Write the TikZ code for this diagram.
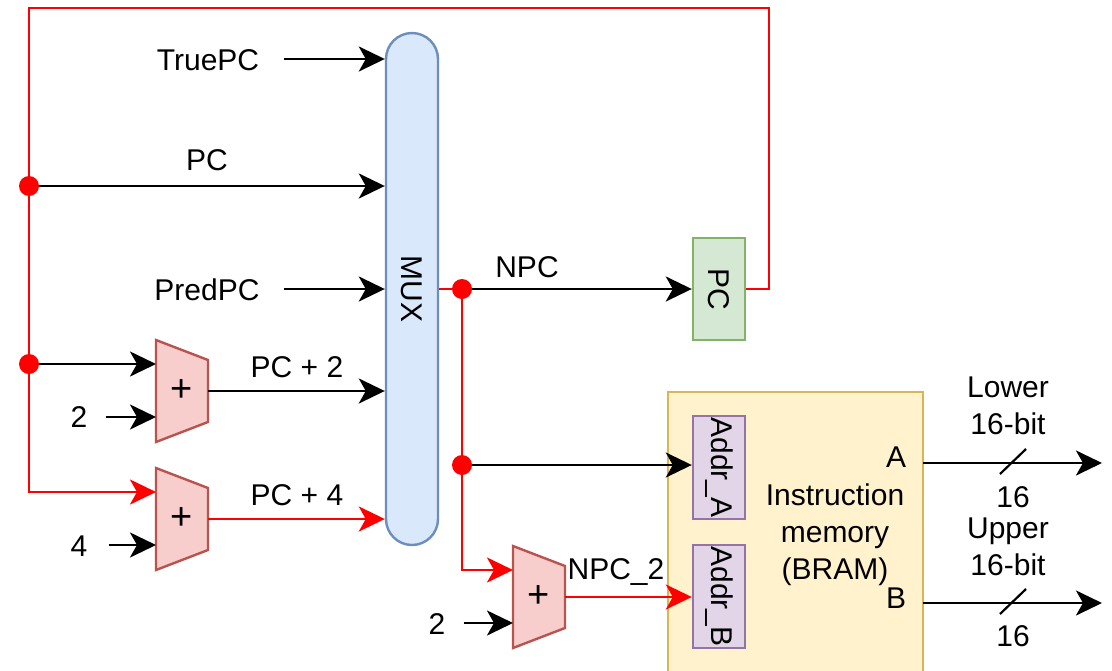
\documentclass[tikz,border=0pt]{standalone}
\usepackage{fontspec}
\setmainfont{Liberation Sans}
\usetikzlibrary{arrows.meta}
\definecolor{muxfill}{HTML}{DAE8FC}\definecolor{muxdraw}{HTML}{6C8EBF}
\definecolor{pcfill}{HTML}{D5E8D4}\definecolor{pcdraw}{HTML}{82B366}
\definecolor{addfill}{HTML}{F8CECC}\definecolor{adddraw}{HTML}{B85450}
\definecolor{memfill}{HTML}{FFF2CC}\definecolor{memdraw}{HTML}{D6B656}
\definecolor{addrfill}{HTML}{E1D5E7}\definecolor{addrdraw}{HTML}{9673A6}
\definecolor{wirered}{HTML}{FF0000}
\begin{document}
\begin{tikzpicture}[x=1pt,y=-1pt,
  lbl/.style={font=\fontsize{30}{37}\selectfont, inner sep=0pt, align=center},
  wire/.style={line width=2.8pt},
  redwire/.style={line width=2.8pt, draw=wirered},
  arr/.style={wire, -{Stealth[length=26pt,width=25pt,inset=7pt]}},
  redarr/.style={redwire, -{Stealth[length=26pt,width=25pt,inset=7pt]}},
  rdot/.style={circle, fill=wirered, minimum size=20pt, inner sep=0pt},
  blockbox/.style={line width=2.4pt, minimum width=52pt, inner sep=0pt},
  adder/.pic={
    \draw[line width=2.4pt, draw=adddraw, fill=addfill] (-26,-51) -- (26,-31) -- (26,31) -- (-26,51) -- cycle;
    \node[font=\fontsize{38}{40}\selectfont, inner sep=0pt] (-plus) at (0,0) {+};
    \coordinate (-in1) at (-26,-27);
    \coordinate (-in2) at (-26,26);
    \coordinate (-out) at (26,0);
  }]
\useasboundingbox (0,0) rectangle (1112,670);

% blocks
\node[blockbox, draw=muxdraw, fill=muxfill, rounded corners=26pt, minimum height=512pt] (mux) at (412,289) {};
\node[lbl, rotate=-90] (muxlbl) at (mux.center) {MUX};
\node[blockbox, draw=pcdraw, fill=pcfill, minimum height=102pt] (pc) at (719,289) {};
\node[lbl, rotate=-90] (pclbl2) at (pc.center) {PC};
\draw[line width=2.4pt, draw=memdraw, fill=memfill] (668,392) rectangle (923,700);
\node[blockbox, draw=addrdraw, fill=addrfill, minimum height=103pt] (addra) at (719,467.5) {};
\node[lbl, rotate=-90] (addralbl) at (addra.center) {Addr\_A};
\node[blockbox, draw=addrdraw, fill=addrfill, minimum height=103pt] (addrb) at (719,596.5) {};
\node[lbl, rotate=-90] (addrblbl) at (addrb.center) {Addr\_B};
\node[lbl] (memlbl) at (835,535) {Instruction\\memory\\(BRAM)};
\node[lbl] (porta) at (896,457) {A};
\node[lbl] (portb) at (896,598) {B};

\pic (add1) at (182,391) {adder};
\pic (add2) at (182,519) {adder};
\pic (add3) at (539,597) {adder};

% labels
\node[lbl] (truepc) at (208,60) {TruePC};
\node[lbl] (pclbl) at (207,160) {PC};
\node[lbl] (predpc) at (207,290) {PredPC};
\node[lbl] (pc2) at (297,367) {PC + 2};
\node[lbl] (pc4) at (297,495) {PC + 4};
\node[lbl] (two1) at (79,417) {2};
\node[lbl] (four) at (79,546) {4};
\node[lbl] (two2) at (437,624) {2};
\node[lbl] (npc) at (527,267) {NPC};
\node[lbl] (npc2) at (616,572) {NPC\_2};
\node[lbl] (lower) at (1008,406) {Lower\\16-bit};
\node[lbl] (sixa) at (1013,497) {16};
\node[lbl] (upper) at (1008,547) {Upper\\16-bit};
\node[lbl] (sixb) at (1013,636) {16};

% coordinates
\coordinate (tl) at (29,8);
\coordinate (tr) at (769,8);
\coordinate (tpcs) at (284,59);
\coordinate (ppcs) at (284,289);

% red loop
\draw[redarr] (pc.east) -| (tr) -- (tl) -- (tl |- add2-in1) -- (add2-in1);
\node[rdot] (d1) at (29,186) {};
\node[rdot] (d2) at (tl |- add1-in1) {};

% inputs to MUX
\draw[arr] (tpcs) -- (tpcs -| mux.west);
\draw[arr] (d1) -- (d1 -| mux.west);
\draw[arr] (ppcs) -- (ppcs -| mux.west);
\draw[arr] (add1-out) -- (add1-out -| mux.west);
\draw[redarr] (add2-out) -- (add2-out -| mux.west);

% adder inputs
\draw[arr] (d2) -- (add1-in1);
\draw[arr] ([xshift=18pt]two1.east |- add1-in2) -- (add1-in2);
\draw[arr] ([xshift=21pt]four.east |- add2-in2) -- (add2-in2);
\draw[arr] ([xshift=18pt]two2.east |- add3-in2) -- (add3-in2);

% MUX output
\node[rdot] (d3) at (462,289) {};
\node[rdot] (d4) at (462,465) {};
\draw[redwire] (mux.east |- d3) -- (d3);
\draw[arr] (d3) -- (pc.west);
\draw[redwire] (d3) -- (d4);
\draw[redarr] (d4) |- (add3-in1);
\draw[arr] (d4) -- (d4 -| addra.west);
\draw[redarr] (add3-out) -- (add3-out -| addrb.west);

% outputs
\coordinate (oa) at (923,463);
\coordinate (oae) at (1102,463);
\coordinate (ob) at (923,603);
\coordinate (obe) at (1102,603);
\draw[arr] (oa) -- (oae);
\draw[arr] (ob) -- (obe);
\coordinate (sa) at (1013,462);
\coordinate (sb) at (1013,602);
\draw[wire, line width=2.2pt] ([shift={(-13,12)}]sa) -- ([shift={(13,-13)}]sa);
\draw[wire, line width=2.2pt] ([shift={(-13,12)}]sb) -- ([shift={(13,-13)}]sb);
\end{tikzpicture}
\end{document}
